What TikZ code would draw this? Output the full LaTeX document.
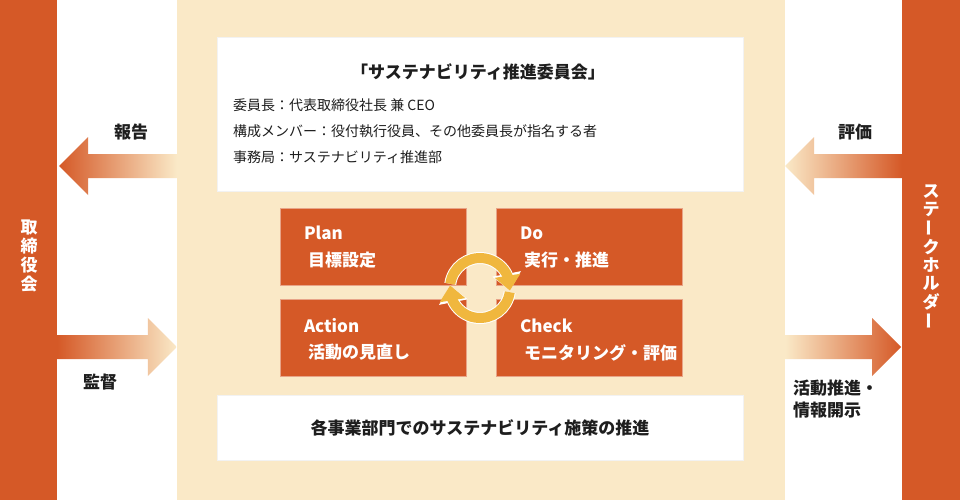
\documentclass[tikz,border=0pt]{standalone}
\usepackage{fontspec}
\setmainfont{Noto Sans CJK JP}
\usepackage{tikz}
\usetikzlibrary{calc,arrows.meta,bending}
\definecolor{basered}{RGB}{213,89,39}
\definecolor{basecream}{RGB}{250,233,199}
\definecolor{ringyellow}{RGB}{240,183,62}
\definecolor{textblack}{RGB}{30,30,30}
\newcommand{\fsz}[2]{\fontsize{#1pt}{#2pt}\selectfont}
% block arrow from tail (#1) to tip (#2), shading #3
\newcommand{\flowarrow}[3]{%
  \coordinate (fa-b) at ($(#2)!29pt!(#1)$);
  \shade[#3] ($(#1)+(0,12)$) -- ($(fa-b)+(0,12)$) -- ($(fa-b)+(0,29)$) -- (#2)
    -- ($(fa-b)+(0,-29)$) -- ($(fa-b)+(0,-12)$) -- ($(#1)+(0,-12)$) -- cycle;}

\tikzset{
  bar/.style={fill=basered, minimum width=57pt, minimum height=500pt, inner sep=0pt},
  pdcabox/.style={fill=basered, draw=basered!55!white, line width=1pt,
    minimum width=186pt, minimum height=77pt, inner sep=0pt},
  whitebox/.style={fill=white, draw=black!5, line width=0.8pt, minimum width=526pt, inner sep=0pt},
  boxtext/.style={anchor=west, text=white, font=\bfseries\fsz{17}{20}, inner sep=0pt},
  sidelabel/.style={text=textblack, font=\bfseries\fsz{17}{22}, inner sep=0pt},
  memberline/.style={anchor=west, text=textblack, font=\fsz{14}{18}, inner sep=0pt},
  vchar/.style={text=white, font=\bfseries\fsz{17}{17}, inner sep=0pt},
  ringedge/.style={draw=white, line width=12pt, -{Triangle[width=28pt,length=17pt]}},
  ring/.style={draw=ringyellow, line width=10pt, -{Triangle[width=25pt,length=15pt]}},
}

\begin{document}
\begin{tikzpicture}[x=1pt,y=-1pt]
\useasboundingbox (0,0) rectangle (960,500);
\fill[white] (0,0) rectangle (960,500);
% Side bars and the centre panel
\node[bar] (board) at (28.5,250) {};
\node[bar, minimum width=58pt] (stake) at (931,250) {};
\node[fill=basecream, minimum width=608pt, minimum height=500pt, inner sep=0pt] (panel) at (481,250) {};
% Vertical names
\foreach \ch [count=\i] in {取,締,役,会}
  \node[vchar] (board-\i) at (29,{256+(\i-2.5)*19}) {\ch};
\foreach \ch/\rot [count=\i] in {ス/0,テ/0,ー/90,ク/0,ホ/0,ル/0,ダ/0,ー/90}
  \node[vchar, rotate=\rot] (stake-\i) at (931,{256+(\i-4.5)*18.5}) {\ch};

% Committee box
\node[whitebox, minimum height=154pt] (committee) at (480,114) {};
\node[text=textblack, font=\bfseries\fsz{17}{20}, inner sep=0pt] (committee-title) at (478,72) {「サステナビリティ推進委員会」};
\node[memberline] (chair) at (233,105) {委員長：代表取締役社長 兼 CEO};
\node[memberline] (members) at (233,131) {構成メンバー：役付執行役員、その他委員長が指名する者};
\node[memberline] (office) at (233,157) {事務局：サステナビリティ推進部};

% PDCA boxes
\node[pdcabox] (plan) at (373.3,247) {};
\node[pdcabox] (do) at (589.3,247) {};
\node[pdcabox] (act) at (373.3,337.5) {};
\node[pdcabox] (check) at (589.3,337.5) {};
\node[boxtext] (plan-en) at ($(plan.west)+(24,-14)$) {Plan};
\node[boxtext] (plan-ja) at ($(plan.west)+(28,13)$) {目標設定};
\node[boxtext] (do-en) at ($(do.west)+(24,-14)$) {Do};
\node[boxtext] (do-ja) at ($(do.west)+(28,13)$) {実行・推進};
\node[boxtext] (act-en) at ($(act.west)+(24,-12)$) {Action};
\node[boxtext] (act-ja) at ($(act.west)+(28,15)$) {活動の見直し};
\node[boxtext] (check-en) at ($(check.west)+(24,-12)$) {Check};
\node[boxtext] (check-ja) at ($(check.west)+(28,15)$) {モニタリング・評価};

% Cycle arrows
\begin{scope}[shift={(480,288)}, yscale=-1]
\coordinate (cycle) at (0,0);
\draw[ringedge] (172:30) arc[start angle=172, end angle=-5, radius=30];
\draw[ring] (172:30) arc[start angle=172, end angle=-5, radius=30];
\draw[ringedge] (-8:30) arc[start angle=-8, end angle=-185, radius=30];
\draw[ring] (-8:30) arc[start angle=-8, end angle=-185, radius=30];
\end{scope}

% Divisions box
\node[whitebox, minimum height=65pt] (divisions) at (480,427.5) {};
\node[text=textblack, font=\bfseries\fsz{17}{20}, inner sep=0pt] (divisions-text) at (480,428) {各事業部門でのサステナビリティ施策の推進};

% Flows between the bars and the panel
\coordinate (report-tail) at (panel.west |- 0,166);
\coordinate (report-tip) at (59,166);
\coordinate (audit-tail) at (board.east |- 0,347);
\coordinate (audit-tip) at (panel.west |- 0,347);
\coordinate (eval-tail) at (stake.west |- 0,166);
\coordinate (eval-tip) at (panel.east |- 0,166);
\coordinate (disclose-tail) at (panel.east |- 0,347);
\coordinate (disclose-tip) at (901,347);
\flowarrow{report-tail}{report-tip}{left color=basered, right color=basecream}
\flowarrow{audit-tail}{audit-tip}{left color=basered, right color=basecream}
\flowarrow{eval-tail}{eval-tip}{left color=basecream, right color=basered}
\flowarrow{disclose-tail}{disclose-tip}{left color=basecream, right color=basered}
% Labels
\node[sidelabel] (report) at (131,132) {報告};
\node[sidelabel] (audit) at (100,382) {監督};
\node[sidelabel] (eval) at (855,132) {評価};
\node[sidelabel, anchor=west, align=left] (disclose) at (793,399) {活動推進・\\情報開示};
\end{tikzpicture}
\end{document}
